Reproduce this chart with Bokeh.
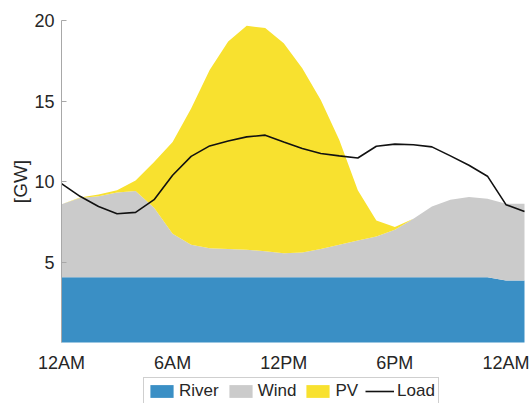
import math
from bokeh.plotting import figure
from bokeh.models import Range1d, FixedTicker, Legend, LegendItem, Label
from bokeh.embed import file_html
from bokeh.resources import INLINE

hours = list(range(26))
tick_hours = [0, 6, 12, 18, 24]
tick_labels = ["12AM", "6AM", "12PM", "6PM", "12AM"]

river = [4.05] * 24 + [3.85, 3.85]
wind = [4.53, 4.92, 5.03, 5.26, 5.36, 4.32, 2.70, 2.02, 1.81, 1.75, 1.71, 1.62, 1.50,
        1.54, 1.75, 2.02, 2.29, 2.54, 2.95, 3.64, 4.40, 4.82, 4.98, 4.88, 4.77, 4.77]
pv = [0.0, 0.03, 0.12, 0.14, 0.65, 2.84, 5.71, 8.47, 11.07, 12.89, 13.91, 13.86, 13.04,
      11.44, 9.26, 6.50, 3.11, 0.99, 0.17, 0.0, 0.0, 0.0, 0.0, 0.0, 0.0, 0.0]
load = [9.87, 9.08, 8.45, 8.00, 8.08, 8.87, 10.39, 11.56, 12.21, 12.52, 12.77, 12.88, 12.46,
        12.05, 11.74, 11.59, 11.46, 12.19, 12.32, 12.28, 12.15, 11.59, 11.01, 10.33, 8.56, 8.14]

FONT = "Liberation Sans"
TXT = "#262626"

river_top = river
wind_top = [r + w for r, w in zip(river, wind)]
pv_top = [t + s for t, s in zip(wind_top, pv)]
zeros = [0.0] * len(hours)

# the frame covers the whole canvas; axes sit at fixed data positions inside it
W, H = 531, 403
PX_X = 463 / 25.0   # pixels per hour
PX_Y = 322 / 20.0   # pixels per GW
p = figure(frame_width=W, frame_height=H, output_backend="svg", toolbar_location=None,
           x_range=Range1d(-61 / PX_X, 25 + 7 / PX_X),
           y_range=Range1d(-61 / PX_Y, 20 + 20 / PX_Y),
           min_border_left=0, min_border_right=0, min_border_top=0, min_border_bottom=0)
p.outline_line_color = None
p.grid.visible = False
p.background_fill_color = "white"

r1 = p.varea(x=hours, y1=zeros, y2=river_top, fill_color="#3A8FC5")
r2 = p.varea(x=hours, y1=river_top, y2=wind_top, fill_color="#CBCBCB")
r3 = p.varea(x=hours, y1=wind_top, y2=pv_top, fill_color="#F8E12F")
r4 = p.line(x=hours, y=load, line_color="#111111", line_width=1.6)

xa = p.xaxis[0]
xa.fixed_location = 0
xa.ticker = FixedTicker(ticks=tick_hours)
xa.major_label_overrides = {h: l for h, l in zip(tick_hours, tick_labels)}
xa.axis_line_color = None
xa.major_tick_line_color = None
xa.major_tick_in = 0
xa.major_tick_out = 0
xa.minor_tick_line_color = None
xa.minor_tick_out = 0
xa.major_label_standoff = 10
xa.major_label_text_font = FONT
xa.major_label_text_font_size = "18px"
xa.major_label_text_color = TXT

ya = p.yaxis[0]
ya.fixed_location = 0
ya.bounds = (0, 20)
ya.ticker = FixedTicker(ticks=[5, 10, 15, 20])
ya.axis_line_color = "#A8A8A8"
ya.major_tick_line_color = "#A8A8A8"
ya.major_tick_in = 5
ya.major_tick_out = 0
ya.minor_tick_line_color = None
ya.minor_tick_out = 0
ya.major_label_standoff = 7
ya.major_label_text_font = FONT
ya.major_label_text_font_size = "18px"
ya.major_label_text_color = TXT

ylabel = Label(x=20, y=H - 181, x_units="screen", y_units="screen", text="[GW]",
               angle=math.pi / 2, text_align="center", text_baseline="middle",
               text_font=FONT, text_font_size="19px", text_color=TXT)
p.add_layout(ylabel)

legend = Legend(items=[LegendItem(label="River", renderers=[r1]),
                       LegendItem(label="Wind", renderers=[r2]),
                       LegendItem(label="PV", renderers=[r3]),
                       LegendItem(label="Load", renderers=[r4])],
                orientation="horizontal", location=(143, -2))
legend.label_text_font = FONT
legend.label_text_font_size = "17px"
legend.label_text_color = TXT
legend.glyph_width = 29
legend.glyph_height = 16
legend.label_standoff = 3
legend.spacing = 7
legend.padding = 3
legend.margin = 0
legend.border_line_color = "#A0A0A0"
legend.background_fill_alpha = 1.0
p.add_layout(legend)

open("out.html", "w").write(file_html(p, INLINE))
